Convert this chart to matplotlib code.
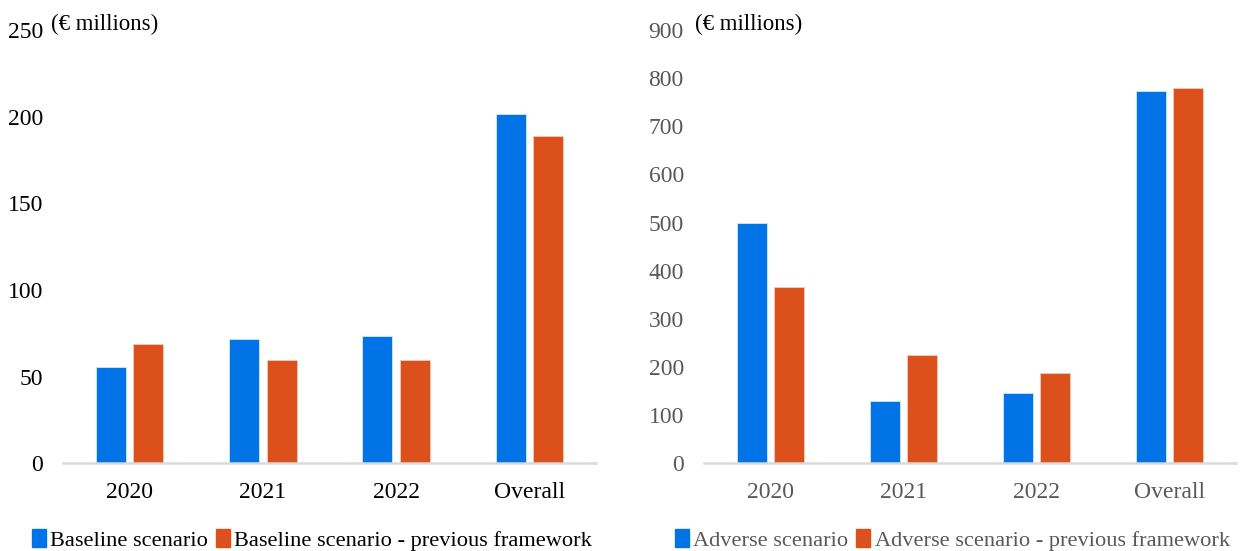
import numpy as np
import matplotlib.pyplot as plt
from matplotlib.patches import Patch

# Projected losses by year, two scenarios, current vs previous framework
categories = ["2020", "2021", "2022", "Overall"]
baseline = [55.7, 71.7, 73.5, 201.7]
baseline_prev = [68.8, 59.6, 59.6, 188.9]
adverse = [500, 129, 145, 774]
adverse_prev = [366, 225, 188, 780]

BLUE = "#0073E6"
ORANGE = "#DC511B"
GREY_TXT = "#595959"

plt.rcParams["font.family"] = ["Liberation Serif", "DejaVu Serif"]

W, H = 1242, 551
fig = plt.figure(figsize=(W / 100, H / 100), dpi=100)

def px_axes(x0, x1, y_top, y_base):
    return fig.add_axes([x0 / W, 1 - y_base / H, (x1 - x0) / W, (y_base - y_top) / H])

ax1 = px_axes(63, 596, 30, 463.3)
ax2 = px_axes(704, 1236, 30, 463.3)

x = np.arange(len(categories))
off, bw = 0.14, 0.225


def style(ax, ymax, step, txt_color, s1, s2, v1, v2, legend_x):
    ax.bar(x - off, v1, bw, color=BLUE, edgecolor="#d6e8fa", linewidth=0.6)
    ax.bar(x + off, v2, bw, color=ORANGE, edgecolor="#f3c9b8", linewidth=0.6)
    ax.set_xlim(-0.5, len(categories) - 0.5)
    ax.set_ylim(0, ymax)
    ax.set_yticks(np.arange(0, ymax + 1, step))
    ax.set_xticks(x)
    ax.set_xticklabels(categories)
    for s in ["top", "right", "left"]:
        ax.spines[s].set_visible(False)
    ax.spines["bottom"].set_color("#d9d9d9")
    ax.spines["bottom"].set_linewidth(1.8)
    ax.tick_params(axis="both", length=0, labelsize=17, colors=txt_color)
    ax.tick_params(axis="y", pad=14.5)
    ax.tick_params(axis="x", pad=13.5)
    handles = [Patch(color=BLUE, label=s1), Patch(color=ORANGE, label=s2)]
    fig.legend(handles=handles, loc="center left", bbox_to_anchor=(legend_x / W, 1 - 540 / H),
               ncol=2, frameon=False, fontsize=16.1, handlelength=0.62, handleheight=0.82,
               handletextpad=0.2, columnspacing=0.35, borderaxespad=0, borderpad=0,
               labelcolor=txt_color)


style(ax1, 250, 50, "black", "Baseline scenario", "Baseline scenario - previous framework",
      baseline, baseline_prev, 32)
style(ax2, 900, 100, GREY_TXT, "Adverse scenario", "Adverse scenario - previous framework",
      adverse, adverse_prev, 675)

fig.text(51 / W, 1 - 24 / H, "(€ millions)", fontsize=16.5, va="center", ha="left")
fig.text(695 / W, 1 - 24 / H, "(€ millions)", fontsize=16.5, va="center", ha="left")

fig.savefig("out.png", dpi=100)
